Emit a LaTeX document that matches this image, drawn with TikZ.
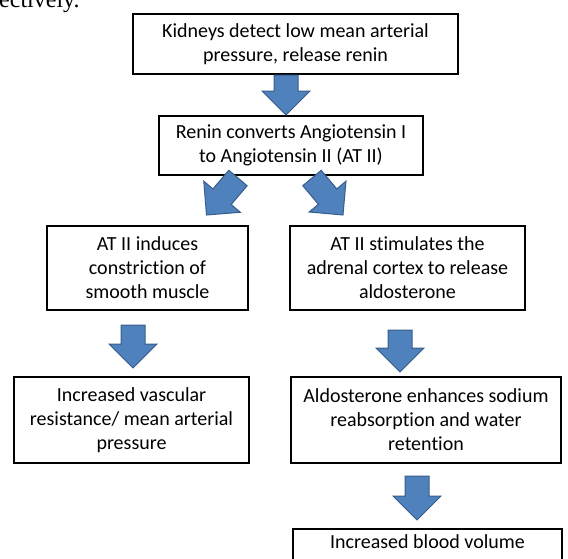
\documentclass[tikz,border=0pt]{standalone}
\usepackage{fontspec}
\setmainfont{Carlito}[Ligatures=NoCommon]
\newfontfamily\pagefont{Liberation Serif}
\usetikzlibrary{calc}

\definecolor{arrowblue}{HTML}{4F81BD}
\definecolor{arrowedge}{HTML}{385D8A}

% block arrow from #1 to #2
\newcommand{\blockarrow}[2]{%
  \coordinate (ba-s) at (#1);
  \coordinate (ba-t) at (#2);
  \coordinate (ba-h) at ($(ba-t)!24pt!(ba-s)$);
  \filldraw[fill=arrowblue,draw=arrowedge,line width=1pt,line join=miter]
    ($(ba-s)!12pt!90:(ba-t)$) -- ($(ba-h)!12pt!-90:(ba-s)$) -- ($(ba-h)!24pt!-90:(ba-s)$)
    -- (ba-t) -- ($(ba-h)!24pt!90:(ba-s)$) -- ($(ba-h)!12pt!90:(ba-s)$)
    -- ($(ba-s)!12pt!-90:(ba-t)$) -- cycle;
}

\begin{document}
\begin{tikzpicture}[x=1pt,y=-1pt,
  box/.style={draw,line width=2pt,align=center,inner sep=0pt,
    font=\fontsize{20}{24}\selectfont}]

\useasboundingbox (0,0) rectangle (568,558);

% cut-off line of the page text
\node[font=\pagefont\fontsize{24}{28}\selectfont,anchor=base west,inner sep=0pt] (frag) at (-1,7.5) {ectively.};

% boxes
\node[box,minimum width=325pt,minimum height=60pt] (kid) at (295.5,44) {Kidneys detect low mean arterial\\pressure, release renin};
\node[box,minimum width=264pt,minimum height=59pt] (ren) at (291,145.5) {Renin converts Angiotensin I\\to Angiotensin II (AT II)};
\node[box,minimum width=201pt,minimum height=84pt] (ind) at (147.5,268) {AT II induces\\constriction of\\smooth muscle};
\node[box,minimum width=235pt,minimum height=84pt] (stim) at (407.5,268) {AT II stimulates the\\adrenal cortex to release\\aldosterone};
\node[box,minimum width=235pt,minimum height=86pt] (vas) at (131.5,420) {Increased vascular\\resistance/ mean arterial\\pressure};
\node[box,minimum width=270pt,minimum height=86pt] (sod) at (426,420) {Aldosterone enhances sodium\\reabsorption and water\\retention};
\node[box,anchor=north,minimum width=269pt,text height=15pt,text depth=40pt,inner ysep=4pt] (blood) at (427.5,528) {Increased blood volume};

% arrows
\blockarrow{$(kid.south)+(-9.5,0)$}{$(ren.north)+(-5,0)$}
\blockarrow{$(ren.south)+(-53,2)$}{$(ind.north)+(59,-10)$}
\blockarrow{$(ren.south)+(21,2)$}{$(stim.north)+(-64.5,-10)$}
\blockarrow{$(ind.south)+(-14.5,14)$}{$(vas.north)+(1.5,-8)$}
\blockarrow{$(stim.south)+(-7.5,19)$}{$(sod.north)+(-26,-4)$}
\blockarrow{$(sod.south)+(-9,12)$}{$(blood.north)+(-10.5,-8)$}

\end{tikzpicture}
\end{document}
